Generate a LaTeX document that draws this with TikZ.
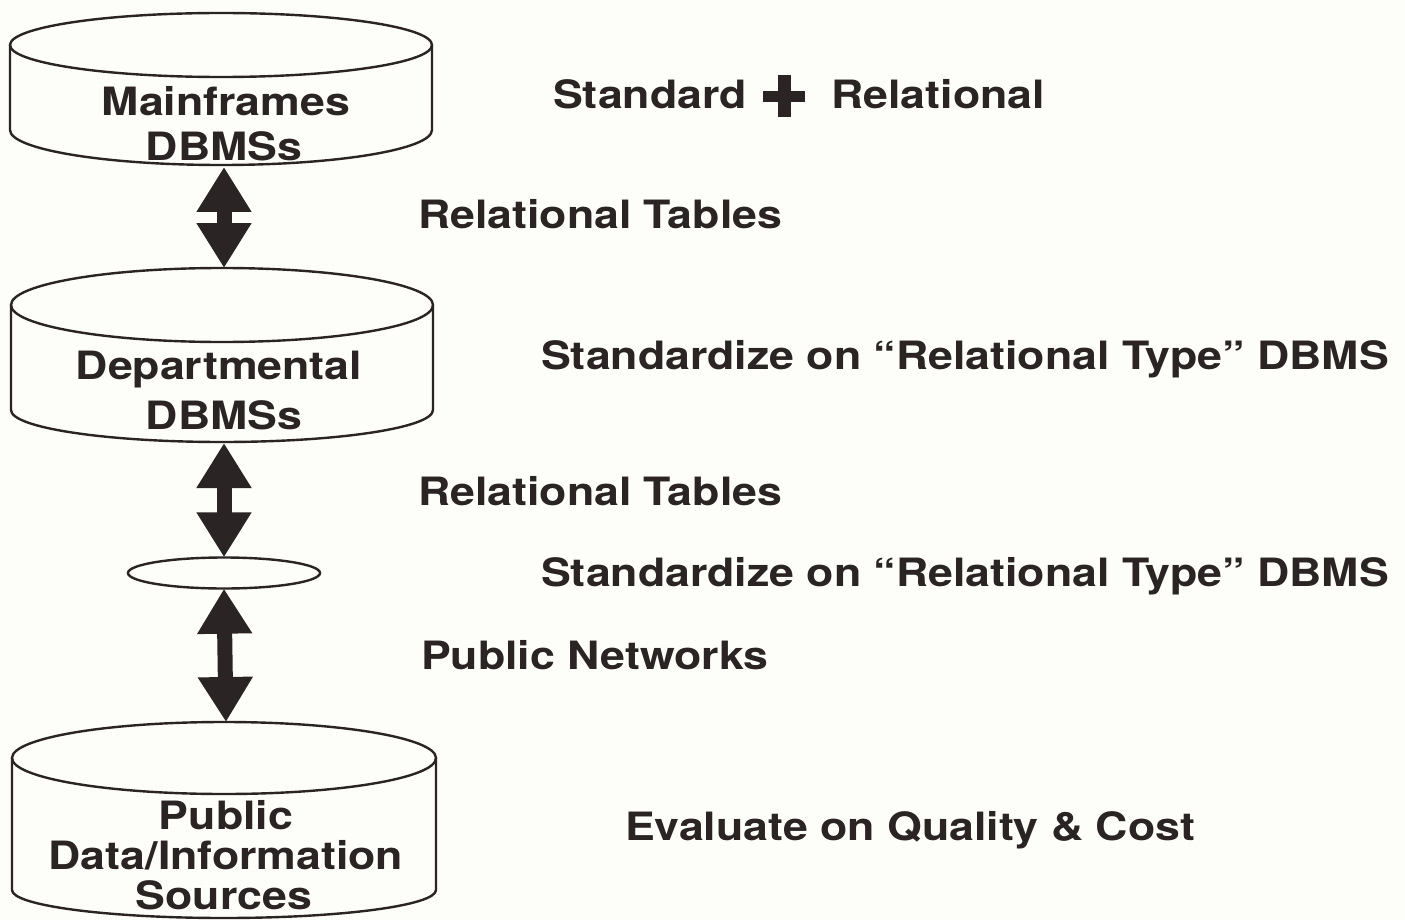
\documentclass[tikz,border=0pt]{standalone}
\usepackage{fontspec}
\setmainfont{TeX Gyre Heros}[FakeStretch=1.145]
\usetikzlibrary{arrows.meta,shapes.geometric}
\definecolor{ink}{RGB}{42,36,36}
\definecolor{paper}{RGB}{253,253,249}
\begin{document}
\begin{tikzpicture}[x=1pt,y=-1pt,
  cyl/.style={draw=ink,line width=2.4pt,line join=round},
  dblarrow/.style={draw=ink,line width=15pt,{Triangle[width=52pt,length=45pt]}-{Triangle[width=52pt,length=45pt]}},
  lbl/.style={anchor=base west,inner sep=0pt,text=ink,font=\fontsize{39}{39}\selectfont\bfseries},
  clbl/.style={anchor=base,inner sep=0pt,text=ink,font=\fontsize{39}{39}\selectfont\bfseries}]
\fill[paper] (0,0) rectangle (1405,920);
\useasboundingbox (0,0) rectangle (1405,920);
% cylinder 1 : mainframes
\draw[cyl] (221,45) ellipse[x radius=211,y radius=32];
\draw[cyl] (10,45) -- (10,130) arc[start angle=180,end angle=0,x radius=211,y radius=35] -- (432,45);
\coordinate (main-bot) at (224,167);
% cylinder 2 : departmental
\draw[cyl] (222,305) ellipse[x radius=211,y radius=37];
\draw[cyl] (11,305) -- (11,410) arc[start angle=180,end angle=0,x radius=211,y radius=32] -- (433,305);
\coordinate (dept-top) at (224,268);
\coordinate (dept-bot) at (224,443);
% small ellipse
\node[draw=ink,line width=2.4pt,ellipse,inner sep=0pt,minimum width=192pt,minimum height=31pt] (hub) at (224,573) {};
% cylinder 3 : public sources
\draw[cyl] (224,758) ellipse[x radius=212,y radius=36];
\draw[cyl] (12,758) -- (12,890) arc[start angle=180,end angle=0,x radius=212,y radius=28] -- (436,758);
\coordinate (pub-top) at (226,722);
% arrows
\draw[dblarrow] (main-bot) -- (dept-top);
\draw[dblarrow] (dept-bot) -- ([yshift=-1pt]hub.north);
\draw[dblarrow] ([yshift=1pt]hub.south) -- (pub-top);
% cylinder texts
\node[clbl] (t-main1) at (226,116) {Mainframes};
\node[clbl] (t-main2) at (224,161) {DBMSs};
\node[clbl] (t-dept1) at (219,379) {Departmental};
\node[clbl] (t-dept2) at (224,429) {DBMSs};
\node[clbl] (t-pub1) at (226,829) {Public};
\node[clbl] (t-pub2) at (226,869) {Data/Information};
\node[clbl] (t-pub3) at (224,909) {Sources};
% right-hand labels
\node[lbl] (l-std) at (553,109) {Standard};
\node[lbl,anchor=base east] (l-rel) at (1045,109) {Relational};
\fill[ink] (763,91) rectangle (805,102);
\fill[ink] (778,75) rectangle (791,117);
\node[lbl] (l-rt1) at (418,229) {Relational Tables};
\node[lbl] (l-sd1) at (541,369) {Standardize on “Relational Type” DBMS};
\node[lbl] (l-rt2) at (418,505) {Relational Tables};
\node[lbl] (l-sd2) at (541,586) {Standardize on “Relational Type” DBMS};
\node[lbl] (l-pn) at (421,669) {Public Networks};
\node[lbl] (l-ev) at (625,840) {Evaluate on Quality \& Cost};
\end{tikzpicture}
\end{document}
